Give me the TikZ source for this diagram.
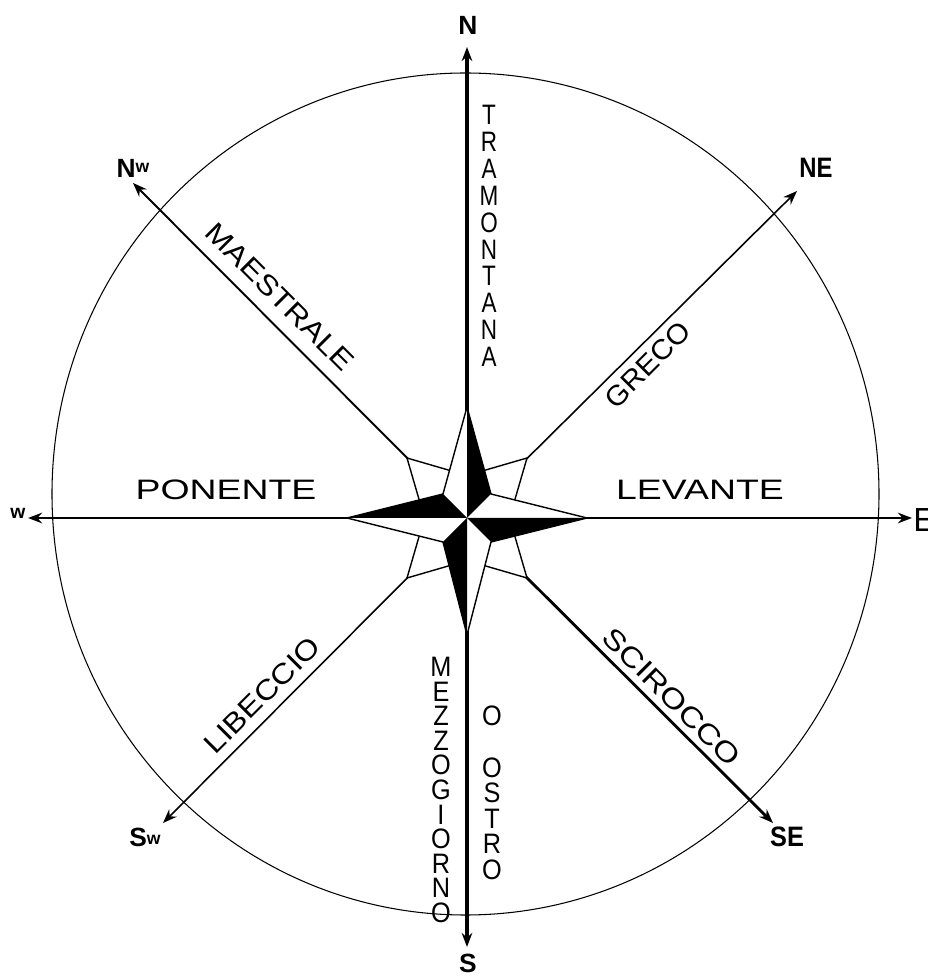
\documentclass[tikz,border=0pt]{standalone}
\usepackage{fontspec}
\setmainfont{Liberation Sans}
\usetikzlibrary{arrows.meta}

\begin{document}
\begin{tikzpicture}[x=0.02cm, y=0.02cm,
wind/.style={font=\fontsize{16}{15.3}\selectfont, inner sep=0pt, align=center},
point/.style={font=\bfseries\fontsize{15}{15}\selectfont, inner sep=0pt},
axis/.style={-{Stealth[length=8pt, width=6pt]}},
rose/.style={draw=black, line width=0.8pt, line join=miter, fill=white}]

\useasboundingbox (-467,-458) rectangle (460,518);

% outer circle
\draw[line width=0.6pt] (-1.5,24) ellipse [x radius=413.5, y radius=421];

\coordinate (O) at (0,0);
\coordinate (tipN) at (0,471);
\coordinate (tipS) at (0,-429);
\coordinate (tipW) at (-439,0);
\coordinate (tipE) at (445,0);
\coordinate (tipNW) at (-334,335);
\coordinate (tipNE) at (330,327);
\coordinate (tipSW) at (-304,-305);
\coordinate (tipSE) at (306,-305);

\draw[axis, line width=2.2pt] (O) -- (tipN);
\draw[axis, line width=2.2pt] (O) -- (tipS);
\draw[axis, line width=1.4pt] (O) -- (tipW);
\draw[axis, line width=1.4pt] (O) -- (tipE);
\draw[axis, line width=1.1pt] (O) -- (tipNW);
\draw[axis, line width=0.9pt] (O) -- (tipNE);
\draw[axis, line width=0.9pt] (O) -- (tipSW);
\draw[axis, line width=1.6pt] (O) -- (tipSE);

% rose
\foreach \a in {0,90,180,270}
  \draw[rose, rotate=\a] (60,60) -- (5,44) -- (O) -- (44,5) -- cycle;

\fill[white] (0,111) -- (24,24) -- (120,0) -- (24,-24) -- (0,-117) -- (-24,-24) -- (-120,0) -- (-24,24) -- cycle;
\fill[black] (O) -- (0,111) -- (24,24) -- cycle;
\fill[black] (O) -- (120,0) -- (24,-24) -- cycle;
\fill[black] (O) -- (0,-117) -- (-24,-24) -- cycle;
\fill[black] (O) -- (-120,0) -- (-24,24) -- cycle;
\draw[line width=0.8pt, line join=miter] (0,111) -- (24,24) -- (120,0) -- (24,-24) -- (0,-117) -- (-24,-24) -- (-120,0) -- (-24,24) -- cycle;

% winds
\node[wind, xscale=0.8] (tramontana) at (22,282) {T\\R\\A\\M\\O\\N\\T\\A\\N\\A};
\node[wind, font=\fontsize{16}{14}\selectfont, xscale=0.9] (mezzogiorno) at (-26,-272) {M\\E\\Z\\Z\\O\\G\\I\\O\\R\\N\\O};
\node[wind, font=\fontsize{16}{14.6}\selectfont, xscale=0.9] (ostro) at (25,-275) {O\\\mbox{}\\O\\S\\T\\R\\O};
\node[wind, xscale=1.33] (ponente) at (-241,28) {PONENTE};
\node[wind, xscale=1.33] (levante) at (233,28) {LEVANTE};
\node[wind, rotate=-45, xscale=1.15] (maestrale) at (-187,221) {MAESTRALE};
\node[wind, rotate=45, xscale=1.05] (greco) at (181,153) {GRECO};
\node[wind, rotate=45, xscale=1.15] (libeccio) at (-205,-177) {LIBECCIO};
\node[wind, rotate=-45, xscale=1.2] (scirocco) at (205,-179) {SCIROCCO};

% compass points
\node[point] (lblN) at (1,493) {N};
\node[point] (lblS) at (1,-445) {S};
\node[font=\fontsize{19}{19}\selectfont, inner sep=0pt, anchor=west] (lblE) at (446,-2) {E};
\node[font=\bfseries\fontsize{11}{11}\selectfont, inner sep=0pt] (lblW) at (-449,5) {w};
\node[point] (lblNW) at (-334,350) {N\raisebox{2.5pt}{\fontsize{10}{10}\selectfont w}};
\node[point] (lblSW) at (-322,-319) {S\raisebox{1pt}{\fontsize{10}{10}\selectfont w}};
\node[point, font=\bfseries\fontsize{16}{16}\selectfont, xscale=0.85] (lblNE) at (349,350) {NE};
\node[point, font=\bfseries\fontsize{16}{16}\selectfont, xscale=0.9] (lblSE) at (320,-319) {SE};

\end{tikzpicture}
\end{document}
